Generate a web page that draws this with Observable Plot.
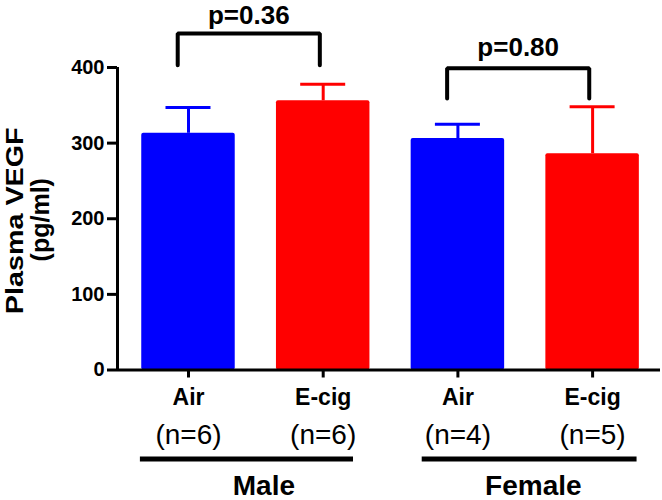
<!DOCTYPE html>
<html><head><meta charset="utf-8">
<script src="https://cdn.jsdelivr.net/npm/d3@7"></script>
<script src="https://cdn.jsdelivr.net/npm/@observablehq/plot@0.6"></script>
<style>body{margin:0;background:#fff} #chart svg{display:block}</style>
</head><body><div id="chart"></div>
<script>
// ---- data ----
const conditions = ["Air", "E-cig", "Air", "E-cig"];
const sexes = ["Male", "Male", "Female", "Female"];
const sampleSizes = ["(n=6)", "(n=6)", "(n=4)", "(n=5)"];
const means = [313, 356, 306, 286];
const upperErrors = [347, 378, 325, 348];
const groups = ["Male", "Female"];
const pValues = ["p=0.36", "p=0.80"];
const yTicks = [0, 100, 200, 300, 400];
const yTitleLines = ["Plasma VEGF", "(pg/ml)"];

// ---- build tables ----
const bars = conditions.map((c, i) => ({i, cond: c, sex: sexes[i], n: sampleSizes[i], mean: means[i], upper: upperErrors[i]}));
const groupLineExt = [[-0.357, 0.225], [-0.265, 0.33]];
const groupData = groups.map((g, k) => {
  const idx = bars.filter(b => b.sex === g).map(b => b.i);
  return {g, first: d3.min(idx), last: d3.max(idx), e: groupLineExt[k]};
});
const halfBar = 0.347, halfCap = 0.167;
const xDomain = [-0.527, 3.504];
const bracketLevels = [{top: 445, leg: 403, label: 457}, {top: 399, leg: 359, label: 415}];
const bracketPts = groupData.flatMap((gd, k) => {
  const a = gd.first - 0.08, b = gd.last - 0.025, L = bracketLevels[k];
  return [{k, x: a, y: L.leg}, {k, x: a, y: L.top}, {k, x: b, y: L.top}, {k, x: b, y: L.leg}];
});
const pLabels = groupData.map((gd, k) => ({text: pValues[k], x: (gd.first - 0.08 + gd.last - 0.025) / 2, y: bracketLevels[k].label}));

const chart = Plot.plot({
  width: 662, height: 500,
  marginLeft: 117, marginRight: 2, marginTop: 67, marginBottom: 130.5,
  style: {fontFamily: "'Liberation Sans', Arial, Helvetica, sans-serif", background: "white", color: "black"},
  x: {domain: xDomain, axis: null},
  y: {domain: [0, 400], axis: null},
  color: {domain: ["Air", "E-cig"], range: ["#0000FF", "#FF0000"]},
  marks: [
    Plot.rectY(bars, {x1: d => d.i - halfBar, x2: d => d.i + halfBar, y1: () => 0, y2: "mean", fill: "cond", rx: 2}),
    Plot.ruleX(bars, {x: "i", y1: "mean", y2: "upper", stroke: "cond", strokeWidth: 3}),
    Plot.ruleY(bars, {y: "upper", x1: d => d.i - halfCap, x2: d => d.i + halfCap, stroke: "cond", strokeWidth: 3}),
    Plot.ruleY([0], {strokeWidth: 3}),
    Plot.ruleX([xDomain[0]], {strokeWidth: 3}),
    Plot.axisY({ticks: yTicks, tickSize: 10, tickPadding: 3, fontSize: 20, fontWeight: "bold", strokeWidth: 3, label: null}),
    Plot.axisX({ticks: bars.map(b => b.i), tickSize: 8, tickFormat: () => "", strokeWidth: 3, label: null}),
    Plot.line(bracketPts, {x: "x", y: "y", z: "k", stroke: "black", strokeWidth: 4, strokeLinejoin: "miter"}),
    Plot.text(pLabels, {x: "x", y: "y", text: "text", fontSize: 26, fontWeight: "bold", lineAnchor: "bottom"}),
    Plot.text(bars, {x: "i", y: () => 0, text: "cond", dy: 34.5, fontSize: 23, fontWeight: "bold", lineAnchor: "bottom"}),
    Plot.text(bars, {x: "i", y: () => 0, text: "n", dy: 73.5, fontSize: 28, lineAnchor: "bottom"}),
    Plot.ruleY(groupData, {y: () => 0, x1: d => d.first + d.e[0], x2: d => d.last + d.e[1], dy: 89, strokeWidth: 5}),
    Plot.text(groupData, {x: d => (d.first + d.last) / 2 + 0.06, y: () => 0, text: "g", dy: 124.5, fontSize: 28, fontWeight: "bold", lineAnchor: "bottom"}),
    Plot.text([yTitleLines[0]], {frameAnchor: "left", text: d => d, rotate: -90, dx: -95, dy: 2, fontSize: 23, fontWeight: "bold", lineAnchor: "bottom", textAnchor: "middle", ariaDescription: "ytitle1"}),
    Plot.text([yTitleLines[1]], {frameAnchor: "left", text: d => d, rotate: -90, dx: -69, dy: 1, fontSize: 25, fontWeight: "bold", lineAnchor: "bottom", textAnchor: "middle"})
  ]
});
// widen the first title line along its reading direction, as in the reference
d3.select(chart).selectAll('g[aria-description="ytitle1"] text').each(function () {
  const t = this.getAttribute("transform") || "";
  this.setAttribute("transform", t + " scale(1.25,1)");
});
document.getElementById("chart").appendChild(chart);
</script>
</body></html>
